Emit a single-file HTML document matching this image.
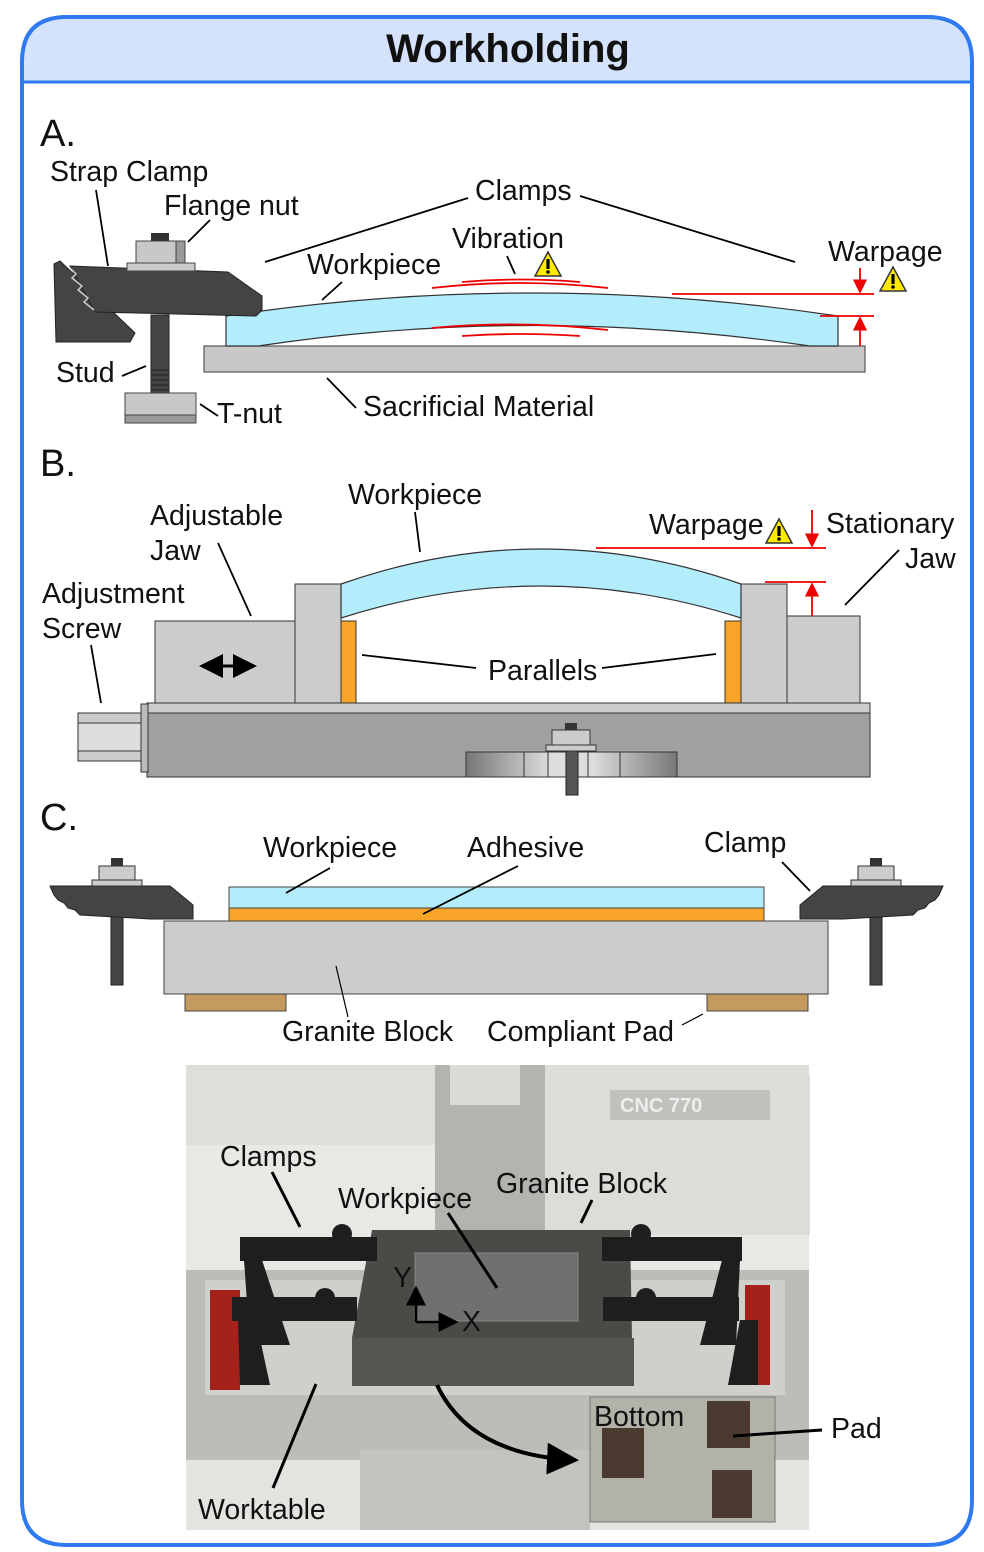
<!DOCTYPE html>
<html><head><meta charset="utf-8"><style>
body{margin:0;background:#fff}
svg{display:block;font-family:"Liberation Sans",sans-serif}
text{font-size:28.5px;fill:#111}
</style></head><body>
<svg width="984" height="1552" viewBox="0 0 984 1552" xmlns="http://www.w3.org/2000/svg">
<defs>
<linearGradient id="nutg" x1="0" x2="1"><stop offset="0" stop-color="#777"/><stop offset="0.4" stop-color="#ddd"/><stop offset="0.6" stop-color="#ddd"/><stop offset="1" stop-color="#777"/></linearGradient>
<marker id="ar" markerWidth="8" markerHeight="8" refX="7" refY="4" orient="auto"><path d="M0,0 L8,4 L0,8 z" fill="#e00"/></marker>
<marker id="ab" markerWidth="8" markerHeight="8" refX="7" refY="4" orient="auto-start-reverse"><path d="M0,0 L8,4 L0,8 z" fill="#000"/></marker>
<g id="warn"><path d="M0,-13 L13,11 L-13,11 Z" fill="#ffea00" stroke="#333" stroke-width="1.5"/><rect x="-1.6" y="-6" width="3.2" height="10" fill="#000"/><circle cx="0" cy="7" r="1.8" fill="#000"/></g>
</defs>
<path d="M22,82 L22,62 Q22,17 67,17 L927,17 Q972,17 972,62 L972,82 Z" fill="#d4e3fb"/>
<path d="M67,17 L927,17 Q972,17 972,62 L972,1500 Q972,1545 927,1545 L67,1545 Q22,1545 22,1500 L22,62 Q22,17 67,17 Z" fill="none" stroke="#2f7af0" stroke-width="4"/>
<line x1="22" y1="82" x2="972" y2="82" stroke="#2f7af0" stroke-width="3"/>
<text x="508" y="62" text-anchor="middle" style="font-size:40px;font-weight:bold">Workholding</text>

<g>
<text x="40" y="146" style="font-size:38px">A.</text>
<rect x="204" y="346" width="661" height="26" fill="#c8c8c8" stroke="#555" stroke-width="1.2"/>
<path d="M226,316 Q530,270 838,316 L838,346 L810,346 Q530,305 258,346 L226,346 Z" fill="#b3ecfb" stroke="#333" stroke-width="1.2"/>
<rect x="151" y="315" width="18" height="78" fill="#444" stroke="#222"/>
<path d="M151,370 L169,370 M151,375 L169,375 M151,380 L169,380 M151,385 L169,385 M151,390 L169,390" stroke="#222"/>
<rect x="125" y="393" width="71" height="30" fill="#c8c8c8" stroke="#444"/>
<rect x="125" y="415" width="71" height="8" fill="#999" stroke="#444"/>
<polygon points="54,264 60,261 135,333 130,342 56,342" fill="#444" stroke="#222"/>
<polygon points="70,266 228,272 262,296 262,310 256,316 95,312" fill="#444" stroke="#222"/>
<path d="M70,268 l6,6 l-4,4 l10,8 l-4,4 l10,8 l-4,4 l10,8" stroke="#ccc" fill="none" stroke-width="1.5"/>
<rect x="127" y="263" width="68" height="8" fill="#ccc" stroke="#444"/>
<rect x="136" y="241" width="49" height="22" fill="#c8c8c8" stroke="#444"/>
<rect x="176" y="241" width="9" height="22" fill="#999" stroke="#444"/>
<rect x="151" y="233" width="18" height="8" fill="#333"/>
<line x1="96" y1="190" x2="108" y2="266" stroke="#000" stroke-width="1.8"/>
<text x="50" y="181">Strap Clamp</text>
<line x1="210" y1="220" x2="188" y2="242" stroke="#000" stroke-width="1.8"/>
<text x="164" y="215">Flange nut</text>
<text x="475" y="200">Clamps</text>
<line x1="468" y1="198" x2="265" y2="262" stroke="#000" stroke-width="1.8"/>
<line x1="580" y1="196" x2="795" y2="262" stroke="#000" stroke-width="1.8"/>
<text x="452" y="248">Vibration</text>
<line x1="507" y1="256" x2="515" y2="274" stroke="#000" stroke-width="1.8"/>
<use href="#warn" x="548" y="265"/>
<text x="307" y="274">Workpiece</text>
<line x1="342" y1="282" x2="322" y2="300" stroke="#000" stroke-width="1.8"/>
<g stroke="#e00" stroke-width="1.8" fill="none">
<path d="M432,288 Q520,278 608,288"/><path d="M462,282 Q520,277 580,282"/>
<path d="M432,328 Q520,320 608,330"/><path d="M462,336 Q520,332 580,336"/>
</g>
<g stroke="#e00" stroke-width="1.8">
<line x1="672" y1="294" x2="874" y2="294"/><line x1="860" y1="268" x2="860" y2="292" marker-end="url(#ar)"/>
<line x1="820" y1="316" x2="874" y2="316"/><line x1="860" y1="346" x2="860" y2="318" marker-end="url(#ar)"/>
</g>
<text x="828" y="261">Warpage</text>
<use href="#warn" x="893" y="280"/>
<text x="56" y="382">Stud</text>
<line x1="122" y1="376" x2="146" y2="366" stroke="#000" stroke-width="1.8"/>
<text x="217" y="423">T-nut</text>
<line x1="200" y1="404" x2="218" y2="416" stroke="#000" stroke-width="1.8"/>
<text x="363" y="416">Sacrificial Material</text>
<line x1="327" y1="378" x2="356" y2="408" stroke="#000" stroke-width="1.8"/>
</g>

<g>
<text x="40" y="476" style="font-size:38px">B.</text>
<rect x="147" y="712" width="723" height="65" fill="#a0a0a0" stroke="#333"/>
<rect x="147" y="703" width="723" height="10" fill="#ccc" stroke="#333"/>
<rect x="78" y="713" width="65" height="48" fill="#ccc" stroke="#333"/>
<rect x="78" y="723" width="65" height="28" fill="#ddd" stroke="#333"/>
<rect x="141" y="704" width="7" height="68" fill="#bbb" stroke="#333"/>
<rect x="155" y="621" width="140" height="82" fill="#ccc" stroke="#333"/>
<rect x="295" y="584" width="46" height="119" fill="#ccc" stroke="#333"/>
<rect x="341" y="621" width="15" height="82" fill="#f7a428" stroke="#333"/>
<rect x="725" y="621" width="16" height="82" fill="#f7a428" stroke="#333"/>
<rect x="741" y="584" width="46" height="119" fill="#ccc" stroke="#333"/>
<rect x="787" y="616" width="73" height="87" fill="#ccc" stroke="#333"/>
<path d="M341,584 Q541,514 741,584 L741,618 Q541,554 341,618 Z" fill="#b3ecfb" stroke="#333" stroke-width="1.2"/>
<rect x="466" y="752" width="211" height="25" fill="url(#nutg)" stroke="#333"/>
<path d="M524,752 V777 M548,752 V777 M588,752 V777 M620,752 V777" stroke="#333"/>
<rect x="566" y="745" width="12" height="50" fill="#555" stroke="#222"/>
<rect x="546" y="745" width="50" height="6" fill="#ccc" stroke="#333"/>
<rect x="552" y="730" width="38" height="15" fill="#ccc" stroke="#333"/>
<rect x="565" y="723" width="12" height="7" fill="#333"/>
<line x1="202" y1="666" x2="254" y2="666" stroke="#000" stroke-width="3" marker-start="url(#ab)" marker-end="url(#ab)"/>
<text x="348" y="504">Workpiece</text>
<line x1="415" y1="512" x2="420" y2="552" stroke="#000" stroke-width="1.8"/>
<text x="150" y="525">Adjustable</text><text x="150" y="560">Jaw</text>
<line x1="218" y1="543" x2="251" y2="616" stroke="#000" stroke-width="1.8"/>
<text x="42" y="603">Adjustment</text><text x="42" y="638">Screw</text>
<line x1="91" y1="645" x2="101" y2="703" stroke="#000" stroke-width="1.8"/>
<text x="649" y="534">Warpage</text>
<use href="#warn" x="779" y="532"/>
<g stroke="#e00" stroke-width="1.8">
<line x1="596" y1="548" x2="826" y2="548"/><line x1="812" y1="510" x2="812" y2="546" marker-end="url(#ar)"/>
<line x1="765" y1="582" x2="826" y2="582"/><line x1="812" y1="616" x2="812" y2="584" marker-end="url(#ar)"/>
</g>
<text x="826" y="533">Stationary</text><text x="905" y="568">Jaw</text>
<line x1="899" y1="550" x2="845" y2="605" stroke="#000" stroke-width="1.8"/>
<text x="488" y="680">Parallels</text>
<line x1="362" y1="655" x2="476" y2="668" stroke="#000" stroke-width="1.8"/>
<line x1="602" y1="668" x2="716" y2="654" stroke="#000" stroke-width="1.8"/>
</g>

<g>
<text x="40" y="830" style="font-size:38px">C.</text>
<rect x="164" y="921" width="664" height="73" fill="#ccc" stroke="#444"/>
<rect x="229" y="908" width="535" height="13" fill="#f7a428" stroke="#444"/>
<rect x="229" y="887" width="535" height="21" fill="#b3ecfb" stroke="#444"/>
<rect x="185" y="994" width="101" height="17" fill="#c49a5e" stroke="#444"/>
<rect x="707" y="994" width="101" height="17" fill="#c49a5e" stroke="#444"/>
<g id="cclamp">
<rect x="111" y="915" width="12" height="70" fill="#444" stroke="#222"/>
<polygon points="50,886 170,886 193,905 193,919 150,919 80,915 75,910 68,908 64,903 58,900 54,895" fill="#444" stroke="#222"/>
<rect x="92" y="880" width="50" height="6" fill="#ccc" stroke="#333"/>
<rect x="99" y="866" width="36" height="14" fill="#ccc" stroke="#333"/>
<rect x="111" y="858" width="12" height="8" fill="#333"/>
</g>
<use href="#cclamp" transform="translate(993,0) scale(-1,1)"/>
<text x="263" y="857">Workpiece</text>
<line x1="330" y1="868" x2="286" y2="893" stroke="#000" stroke-width="1.8"/>
<text x="467" y="857">Adhesive</text>
<line x1="518" y1="866" x2="423" y2="914" stroke="#000" stroke-width="1.8"/>
<text x="704" y="852">Clamp</text>
<line x1="782" y1="862" x2="810" y2="891" stroke="#000" stroke-width="1.8"/>
<text x="282" y="1041">Granite Block</text>
<line x1="336" y1="966" x2="348" y2="1017" stroke="#000" stroke-width="1.2"/>
<text x="487" y="1041">Compliant Pad</text>
<line x1="682" y1="1025" x2="703" y2="1014" stroke="#000" stroke-width="1.2"/>
</g>

<g>
<rect x="186" y="1065" width="623" height="465" fill="#e8e8e5"/>
<rect x="186" y="1065" width="623" height="80" fill="#dededa"/>
<rect x="435" y="1065" width="110" height="165" fill="#b3b3af"/>
<rect x="450" y="1065" width="70" height="40" fill="#dddbd6"/>
<rect x="545" y="1075" width="265" height="160" fill="#dcdcd8"/>
<rect x="610" y="1090" width="160" height="30" fill="#c0c0bc"/>
<text x="620" y="1112" style="font-size:20px;fill:#eee;font-weight:bold">CNC 770</text>
<rect x="186" y="1270" width="623" height="190" fill="#bdbdb8"/>
<rect x="205" y="1280" width="580" height="115" fill="#cfcfcb"/>
<rect x="210" y="1290" width="30" height="100" fill="#a5221c"/>
<rect x="745" y="1285" width="25" height="100" fill="#a5221c"/>
<rect x="186" y="1460" width="623" height="70" fill="#e3e3e0"/>
<rect x="360" y="1450" width="230" height="80" fill="#c4c4bf"/>
<polygon points="372,1230 630,1230 632,1338 630,1386 355,1386 352,1338" fill="#4a4a47"/>
<rect x="352" y="1338" width="282" height="48" fill="#555551"/>
<rect x="415" y="1253" width="163" height="68" fill="#707070" stroke="#888"/>
<g fill="#1e1e1e">
<rect x="240" y="1237" width="137" height="24"/><rect x="232" y="1297" width="125" height="24"/>
<polygon points="244,1260 262,1260 290,1345 250,1345"/><polygon points="238,1320 256,1320 270,1385 240,1385"/>
<rect x="602" y="1237" width="140" height="24"/><rect x="603" y="1297" width="136" height="24"/>
<polygon points="722,1260 740,1260 736,1345 700,1345"/><polygon points="740,1320 758,1320 758,1385 728,1385"/>
<circle cx="342" cy="1234" r="10"/><circle cx="325" cy="1298" r="10"/><circle cx="641" cy="1234" r="10"/><circle cx="646" cy="1298" r="10"/>
</g>
<g>
<rect x="590" y="1397" width="185" height="125" fill="#b2b2a8" stroke="#777"/>
<rect x="602" y="1428" width="42" height="50" fill="#4a3a30"/>
<rect x="707" y="1401" width="43" height="47" fill="#4a3a30"/>
<rect x="712" y="1470" width="40" height="48" fill="#4a3a30"/>
</g>
<path d="M437,1385 Q470,1455 575,1460" fill="none" stroke="#000" stroke-width="4" marker-end="url(#ab)"/>
<line x1="416" y1="1322" x2="416" y2="1288" stroke="#000" stroke-width="2.5" marker-end="url(#ab)"/>
<line x1="416" y1="1322" x2="456" y2="1322" stroke="#000" stroke-width="2.5" marker-end="url(#ab)"/>
<text x="393" y="1287">Y</text><text x="462" y="1331">X</text>
<text x="220" y="1166">Clamps</text>
<line x1="272" y1="1172" x2="300" y2="1227" stroke="#000" stroke-width="3"/>
<text x="338" y="1208">Workpiece</text>
<line x1="448" y1="1213" x2="497" y2="1288" stroke="#000" stroke-width="3"/>
<text x="496" y="1193">Granite Block</text>
<line x1="592" y1="1200" x2="581" y2="1223" stroke="#000" stroke-width="3"/>
<text x="594" y="1426">Bottom</text>
<text x="831" y="1438">Pad</text>
<line x1="733" y1="1436" x2="822" y2="1430" stroke="#000" stroke-width="3"/>
<text x="198" y="1519">Worktable</text>
<line x1="273" y1="1488" x2="316" y2="1384" stroke="#000" stroke-width="3"/>
</g>
</svg>
</body></html>
